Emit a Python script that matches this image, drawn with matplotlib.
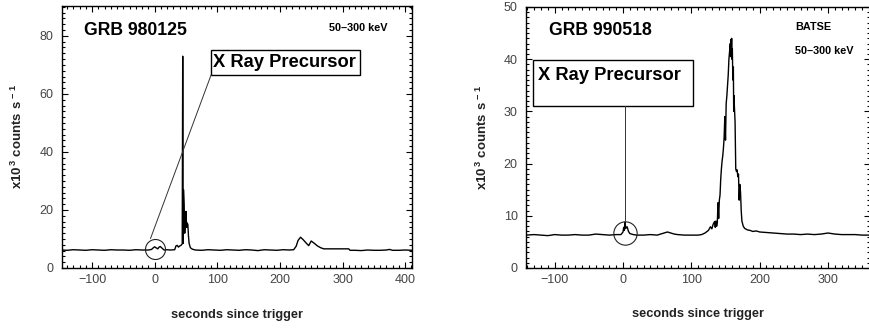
import matplotlib
matplotlib.use('Agg')
import matplotlib.pyplot as plt
from matplotlib.patches import Rectangle
from matplotlib.ticker import MultipleLocator

plt.rcParams['font.family'] = ['Liberation Sans', 'DejaVu Sans']
plt.rcParams['mathtext.fontset'] = 'custom'
plt.rcParams['mathtext.rm'] = 'Liberation Sans:bold'
plt.rcParams['mathtext.bf'] = 'Liberation Sans:bold'
plt.rcParams['mathtext.default'] = 'bf'

# GRB 980125 light curve (seconds, x10^3 counts/s)
t_980125 = [-148, -140, -130, -120, -110, -100, -90, -80, -70, -60, -50, -40, -30, -20,
            -10, -5, -2, 0, 2, 5, 7, 9, 11, 13, 15, 20, 25, 32, 34, 36, 38, 40, 42, 44,
            44.8, 45.5, 46, 47, 48, 49, 50, 51, 52, 53, 54, 55, 57, 60, 65, 75, 85, 95,
            105, 115, 125, 135, 145, 155, 165, 175, 185, 195, 205, 215, 222, 226, 229,
            233, 237, 242, 246, 250, 255, 260, 265, 270, 280, 290, 300, 310, 312, 320,
            330, 340, 350, 360, 370, 375, 380, 390, 400, 411]
c_980125 = [6.2, 6.1, 6.3, 6.2, 6.1, 6.3, 6.2, 6.1, 6.3, 6.2, 6.2, 6.1, 6.3, 6.2,
            6.2, 6.4, 7.0, 7.3, 7.0, 6.6, 7.2, 7.4, 7.0, 6.6, 6.2, 6.3, 6.2, 6.3, 7.6,
            7.8, 7.2, 7.6, 7.8, 8.3,
            73.0, 8.5, 27.0, 22.0, 12.0, 16.0, 19.5, 14.0, 15.5, 15.0, 11.0, 8.5, 7.0,
            6.5, 6.2, 6.1, 6.3, 6.2,
            6.1, 6.3, 6.2, 6.1, 6.3, 6.2, 6.0, 6.3, 6.2, 6.1, 6.3, 6.2, 6.3, 7.5, 9.5,
            10.6, 9.8, 8.6, 7.7, 9.3, 8.5, 7.6, 7.0, 6.6, 6.6, 6.6, 6.6, 6.6, 6.1, 6.1,
            6.0, 6.2, 6.1, 6.1, 6.2, 6.4, 6.1, 6.1, 6.2, 6.1]

# GRB 990518 light curve
t_990518 = [-142, -130, -120, -110, -100, -90, -80, -70, -60, -50, -40, -30, -20, -10,
            -3, 0, 1, 2, 3, 4, 6, 8, 10, 15, 20, 30, 40, 50, 55, 60, 65, 70, 75, 80,
            90, 100, 110, 115, 120, 125, 128, 130, 132, 134, 135, 136, 137, 138, 139,
            140, 141, 142, 143, 144, 145, 146, 147, 148, 149, 150, 151, 152, 153, 154,
            155, 156, 157, 157.5, 158, 158.5, 159, 159.5, 160, 160.5, 161, 161.5, 162,
            162.5, 163, 164, 165, 166, 167, 168, 169, 170, 171, 172, 173, 174, 176,
            178, 182, 186, 190, 195, 200, 210, 220, 230, 240, 250, 260, 270, 280, 290,
            300, 310, 320, 330, 340, 350, 362]
c_990518 = [6.3, 6.4, 6.3, 6.2, 6.4, 6.3, 6.3, 6.4, 6.3, 6.3, 6.5, 6.4, 6.3, 6.4,
            6.4, 6.9, 7.8, 7.2, 8.8, 7.6, 7.9, 7.0, 6.6, 6.4, 6.3, 6.3, 6.4, 6.3, 6.5,
            6.7, 6.9, 6.7, 6.5, 6.4,
            6.3, 6.3, 6.3, 6.4, 6.7, 7.2, 7.9, 7.5, 8.4, 8.9, 7.8, 9.0, 8.0, 8.6, 12.5,
            9.5, 13.0, 14.0, 17.0, 19.0, 20.5, 21.5, 23.0, 25.0, 29.0, 24.5, 31.5, 33.0,
            35.0, 37.0,
            40.0, 41.5, 43.0, 40.5, 43.8, 41.0, 44.0, 40.0, 42.0, 38.0, 36.0, 38.5, 30.0,
            33.0, 31.0, 28.0, 19.0, 18.5, 18.8, 17.5, 18.0, 13.0, 16.0, 14.5, 11.0, 9.0,
            8.0,
            7.6, 7.3, 7.2, 7.0, 7.1, 6.9, 6.8, 6.7, 6.6, 6.5, 6.5, 6.4, 6.5, 6.4, 6.5,
            6.7, 6.5, 6.4, 6.4, 6.4, 6.3, 6.3]

fig = plt.figure(figsize=(8.69, 3.28), dpi=100)
ax1 = fig.add_axes([62 / 869, 1 - 268 / 328, 350 / 869, 262 / 328])
ax2 = fig.add_axes([526 / 869, 1 - 268 / 328, 344 / 869, 261 / 328])


def style_axis(ax, ymajor, yminor):
    ax.xaxis.set_major_locator(MultipleLocator(100))
    ax.xaxis.set_minor_locator(MultipleLocator(10))
    ax.yaxis.set_major_locator(MultipleLocator(ymajor))
    ax.yaxis.set_minor_locator(MultipleLocator(yminor))
    ax.tick_params(which='both', direction='in', top=True, right=True,
                   labelsize=9, labelcolor='#444444', width=0.8)
    ax.tick_params(which='major', length=4.5)
    ax.tick_params(which='minor', length=2.2)
    ax.tick_params(axis='y', pad=6)
    ax.tick_params(axis='x', pad=4)
    for s in ax.spines.values():
        s.set_linewidth(1.0)
    ax.set_ylabel(r'x10$^{\,3}$ counts s$^{\,-1}$', fontsize=9.5, fontweight='bold',
                  color='#222222')
    ax.set_xlabel('seconds since trigger', fontsize=9.2, fontweight='bold', color='#222222')


# left panel
ax1.plot(t_980125, c_980125, color='black', lw=1.0)
ax1.set_xlim(-148, 411)
ax1.set_ylim(0, 90.3)
style_axis(ax1, 20, 2)
ax1.yaxis.set_label_coords(-0.107, 0.5)
ax1.xaxis.set_label_coords(0.5, -0.155)
ax1.text(0.063, 0.905, 'GRB 980125', transform=ax1.transAxes, fontsize=12.7,
         fontweight='bold', va='center', ha='left')
ax1.text(0.931, 0.916, '50\u2013300 keV', transform=ax1.transAxes, fontsize=7.8,
         fontweight='bold', va='center', ha='right')
ax1.add_patch(Rectangle((0.426, 0.737), 0.425, 0.095, transform=ax1.transAxes,
                        fill=False, lw=1.0, ec='black'))
ax1.text(0.431, 0.784, 'X Ray Precursor', transform=ax1.transAxes, fontsize=13.2,
         fontweight='bold', va='center', ha='left')
ax1.plot([0.253, 0.426], [0.113, 0.737], transform=ax1.transAxes, color='#333333', lw=0.7)
ax1.plot([0.5], [6.6], marker='o', ms=14.4, mfc='none', mec='#222222', mew=0.8)

# right panel
ax2.plot(t_990518, c_990518, color='black', lw=1.0)
ax2.set_xlim(-142, 361.5)
ax2.set_ylim(0, 50)
style_axis(ax2, 10, 1)
ax2.yaxis.set_label_coords(-0.104, 0.5)
ax2.xaxis.set_label_coords(0.5, -0.155)
ax2.text(0.067, 0.909, 'GRB 990518', transform=ax2.transAxes, fontsize=12.7,
         fontweight='bold', va='center', ha='left')
ax2.text(0.784, 0.923, 'BATSE', transform=ax2.transAxes, fontsize=7.8,
         fontweight='bold', va='center', ha='left')
ax2.text(0.781, 0.831, '50\u2013300 keV', transform=ax2.transAxes, fontsize=7.8,
         fontweight='bold', va='center', ha='left')
ax2.add_patch(Rectangle((0.020, 0.621), 0.465, 0.176, transform=ax2.transAxes,
                        fill=False, lw=1.0, ec='black'))
ax2.text(0.035, 0.736, 'X Ray Precursor', transform=ax2.transAxes, fontsize=13.2,
         fontweight='bold', va='center', ha='left')
ax2.plot([0.289, 0.289], [0.621, 0.182], transform=ax2.transAxes, color='#333333', lw=0.7)
ax2.plot([3.4], [6.8], marker='o', ms=16.8, mfc='none', mec='#222222', mew=0.8)

fig.savefig('out.png', dpi=100)
